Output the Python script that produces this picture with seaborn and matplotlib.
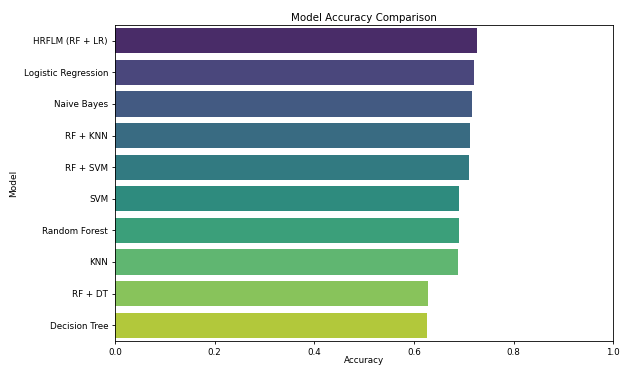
import matplotlib
matplotlib.use("Agg")
import matplotlib.pyplot as plt
import seaborn as sns
import pandas as pd

models = [
    "HRFLM (RF + LR)",
    "Logistic Regression",
    "Naive Bayes",
    "RF + KNN",
    "RF + SVM",
    "SVM",
    "Random Forest",
    "KNN",
    "RF + DT",
    "Decision Tree",
]
accuracy = [0.726, 0.721, 0.717, 0.712, 0.711, 0.691, 0.690, 0.688, 0.629, 0.627]

df = pd.DataFrame({"Model": models, "Accuracy": accuracy})

fig = plt.figure(figsize=(6.27, 3.67), dpi=100)
ax = fig.add_axes([0.1834, 0.071, 0.7948, 0.861])

sns.barplot(data=df, x="Accuracy", y="Model", hue="Model", palette="viridis",
            legend=False, ax=ax)

ax.set_xlim(0, 1.0)
ax.set_title("Model Accuracy Comparison", fontsize=7.4, pad=3)
ax.set_xlabel("Accuracy", fontsize=6.3, labelpad=-0.5)
ax.set_ylabel("Model", fontsize=6.5)
ax.tick_params(labelsize=6.3, length=2.5, width=0.6, pad=2.5)
for s in ax.spines.values():
    s.set_linewidth(0.6)

fig.savefig("out.png", dpi=100)
